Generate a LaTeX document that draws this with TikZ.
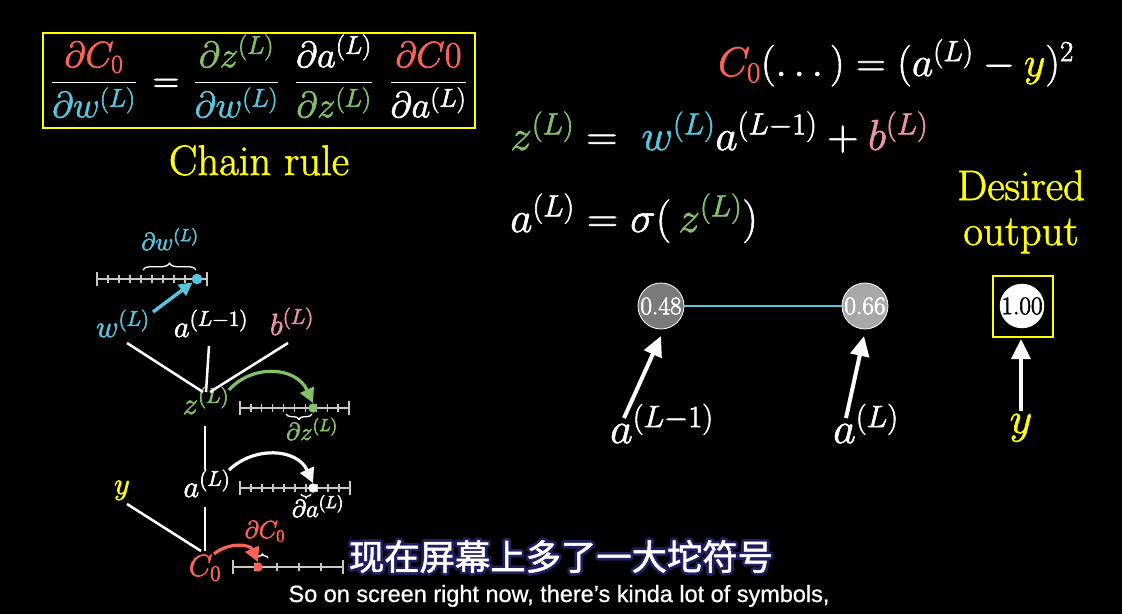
\RequirePackage{fix-cm}
\documentclass[tikz,border=0pt]{standalone}
\usepackage{amsmath}
\usepackage{fontspec}
\newfontfamily\cjk[FakeBold=1.5]{Noto Sans CJK SC}
\newfontfamily\cjkplain{Noto Sans CJK SC}
\newfontfamily\subsf[FakeBold=0.8]{Liberation Sans}
\usetikzlibrary{arrows.meta,decorations.pathreplacing}
\definecolor{mred}{HTML}{FC6255}
\definecolor{mblue}{HTML}{58C4DD}
\definecolor{mgreen}{HTML}{83C167}
\definecolor{mpink}{HTML}{EC92AB}
\definecolor{myellow}{HTML}{FFFF00}
\definecolor{tickgray}{HTML}{C8C8C8}
\definecolor{subnavy}{HTML}{1E1E60}
\definecolor{actA}{HTML}{7A7A7A}
\definecolor{actB}{HTML}{A8A8A8}
\newcommand\fsz[1]{\fontsize{#1}{#1}\selectfont\special{pdf:literal 2 Tr 0.45 w}}
\newcommand\numln[4]{%
  \draw[tickl] (#1,#3) -- (#2,#3);
  \foreach \i in {1,...,#4} {\draw[tickl] ({#1+(#2-#1)*\i/#4},#3-4) -- ({#1+(#2-#1)*\i/#4},#3+4);}
  \draw[tickl] (#1,#3-7) -- (#1,#3+7);
  \draw[tickl] (#2,#3-7) -- (#2,#3+7);
}
\begin{document}
\begin{tikzpicture}[x=0.75pt,y=-0.75pt,
  lbl/.style={text=white, inner sep=0pt, anchor=base},
  conn/.style={white, line width=1.9pt},
  tickl/.style={tickgray, line width=1pt},
  curv/.style={line width=2.4pt, -{Triangle[length=11pt,width=11pt]}},
  bigarr/.style={white, line width=3pt, -{Triangle[length=15pt,width=14pt]}},
  act/.style={circle, draw=white, line width=0.6pt, minimum size=34.5pt, inner sep=0pt, text=white, font=\fsz{19}},
  brc/.style={decorate, decoration={brace, amplitude=#1}, white, line width=1pt},
  dotn/.style={circle, inner sep=0pt, minimum size=7pt}
]
\fill[black] (0,0) rectangle (1122,614);
\useasboundingbox (0,0) rectangle (1122,614);

% ---------- chain rule box ----------
\draw[myellow, line width=1.8pt] (43,33) rectangle (475,128);
\node[lbl, font=\fsz{27.5}] (f1) at (94,92) {$\displaystyle\frac{\color{mred}\partial C_0}{\color{mblue}\partial w^{(L)}}$};
\node[lbl, font=\fsz{27.5}] (eqs) at (166,92) {$=$};
\node[lbl, font=\fsz{27.5}] (f2) at (236.5,92) {$\displaystyle\frac{\color{mgreen}\partial z^{(L)}}{\color{mblue}\partial w^{(L)}}$};
\node[lbl, font=\fsz{27.5}] (f3) at (334,92) {$\displaystyle\frac{\partial a^{(L)}}{\color{mgreen}\partial z^{(L)}}$};
\node[lbl, font=\fsz{27.5}] (f4) at (428.5,92) {$\displaystyle\frac{\color{mred}\partial C0}{\partial a^{(L)}}$};
\node[lbl, text=myellow, font=\fsz{32}] (chain) at (259,175) {Chain rule};

% ---------- right equations ----------
\node[lbl, font=\fsz{31}] (costeq) at (896,76) {$\color{mred}C_0\color{white}(\dots) = (a^{(L)} - {\color{myellow}y})^2$};
\node[lbl, anchor=base west, font=\fsz{32.5}] (zeq) at (510,150) {$\color{mgreen}z^{(L)}\color{white} = \;{\color{mblue}w^{(L)}}a^{(L-1)} +{\color{mpink}b^{(L)}}$};
\node[lbl, anchor=base west, font=\fsz{32.5}] (aeq) at (510,232) {$a^{(L)} = \sigma(\,{\color{mgreen}z^{(L)}})$};
\node[lbl, text=myellow, font=\fsz{32}] (desired) at (1021,200) {Desired};
\node[lbl, text=myellow, font=\fsz{32}] (output) at (1021,245) {output};

% ---------- neurons ----------
\node[act, fill=actA] (n1) at (661,306) {0.48};
\node[act, fill=actB] (n2) at (865,306) {0.66};
\node[circle, fill=white, minimum size=33pt, inner sep=0pt, text=black, font=\fsz{19}] (n3) at (1022,306) {1.00};
\draw[myellow, line width=1.8pt] (993,276) rectangle (1053,337);
\draw[mblue, line width=0.8pt] (n1) -- (n2);
\node[lbl, font=\fsz{33}] (ra1) at (662,443) {$a^{(L-1)}$};
\node[lbl, font=\fsz{33}] (ra2) at (866,443) {$a^{(L)}$};
\node[lbl, font=\fsz{33}] (ry) at (1021,433) {$\color{myellow}y$};
\coordinate (t1) at (624,418); \coordinate (h1) at (661,336);
\coordinate (t2) at (846,418); \coordinate (h2) at (864,336);
\coordinate (t3) at (1021,411); \coordinate (h3) at (1021,339);
\draw[bigarr] (t1) -- (h1);
\draw[bigarr] (t2) -- (h2);
\draw[bigarr] (t3) -- (h3);

% ---------- left tree ----------
\node[lbl, font=\fsz{23}] (w) at (123,337) {$\color{mblue}w^{(L)}$};
\node[lbl, font=\fsz{23}] (am1) at (211,337) {$a^{(L-1)}$};
\node[lbl, font=\fsz{23}] (b) at (292,335) {$\color{mpink}b^{(L)}$};
\node[lbl, font=\fsz{23}] (z) at (206,414) {$\color{mgreen}z^{(L)}$};
\node[lbl, font=\fsz{23}] (a) at (207,497) {$a^{(L)}$};
\node[lbl, font=\fsz{23}] (y) at (122,494) {$\color{myellow}y$};
\node[lbl, font=\fsz{23}] (c0) at (205,576) {$\color{mred}C_0$};

\coordinate (w1) at (127,343); \coordinate (zt1) at (203,392);
\coordinate (a1) at (209,346); \coordinate (zt2) at (206,392);
\coordinate (b1) at (288,343); \coordinate (zt3) at (210,392);
\coordinate (zb) at (205,426); \coordinate (at) at (205,470);
\coordinate (ab) at (205,507); \coordinate (ct) at (205,551);
\coordinate (y1) at (127,504); \coordinate (ct2) at (201,551);
\draw[conn] (w1) -- (zt1);
\draw[conn] (a1) -- (zt2);
\draw[conn] (b1) -- (zt3);
\draw[conn] (zb) -- (at);
\draw[conn] (ab) -- (ct);
\draw[conn] (y1) -- (ct2);

% number line for w
\numln{97}{207}{279}{10}
\node[dotn, fill=mblue, minimum size=8pt] (dw) at (197,279) {};
\draw[brc=5pt] (143,270) -- (196,270);
\node[lbl, font=\fsz{18.5}] (ldw) at (170,250) {$\color{mblue}\partial w^{(L)}$};
\coordinate (cw) at (153,312);
\draw[mblue, line width=2.6pt, -{Triangle[length=10pt,width=10pt]}] (cw) -- (dw);

% number line for z
\numln{240}{349}{408}{10}
\node[dotn, fill=mgreen] (dz) at (313,408) {};
\draw[brc=4pt] (312,414) -- (286,414);
\node[lbl, font=\fsz{18.5}] (ldz) at (312,440) {$\color{mgreen}\partial z^{(L)}$};
\coordinate (zs) at (229,390);
\draw[mgreen, curv] (zs) .. controls (252,364) and (296,366) .. (dz.north);

% number line for a
\numln{240}{350}{488}{10}
\node[dotn, fill=white] (da) at (313,488) {};
\draw[brc=3pt] (311,494) -- (301,494);
\node[lbl, font=\fsz{18.5}] (lda) at (318,517) {$\partial a^{(L)}$};
\coordinate (as) at (229,470);
\draw[white, curv] (as) .. controls (254,446) and (297,448) .. (da.north);

% number line for C
\numln{233}{343}{567}{5}
\node[dotn, fill=mred] (dc) at (258,567) {};
\draw[brc=3pt] (257,558) -- (268,558);
\node[lbl, font=\fsz{18.5}] (ldc) at (265,538) {$\color{mred}\partial C_0$};
\coordinate (cs) at (214,554);
\draw[mred, curv] (cs) .. controls (228,542) and (250,544) .. (dc.north);

% ---------- subtitles ----------
\node[lbl, text=subnavy, font=\cjkplain\fontsize{26.5}{26.5}\selectfont] (subzhbg) at (561,570) {\special{pdf:literal 2 Tr 4.5 w 1 j}现在屏幕上多了一大坨符号};
\node[lbl, font=\cjk\fontsize{26.5}{26.5}\selectfont] (subzh) at (561,570) {现在屏幕上多了一大坨符号};
\node[lbl, font=\subsf\fontsize{17.6}{17.6}\selectfont] (suben) at (559,602) {So on screen right now, there’s kinda lot of symbols,};
\end{tikzpicture}
\end{document}
